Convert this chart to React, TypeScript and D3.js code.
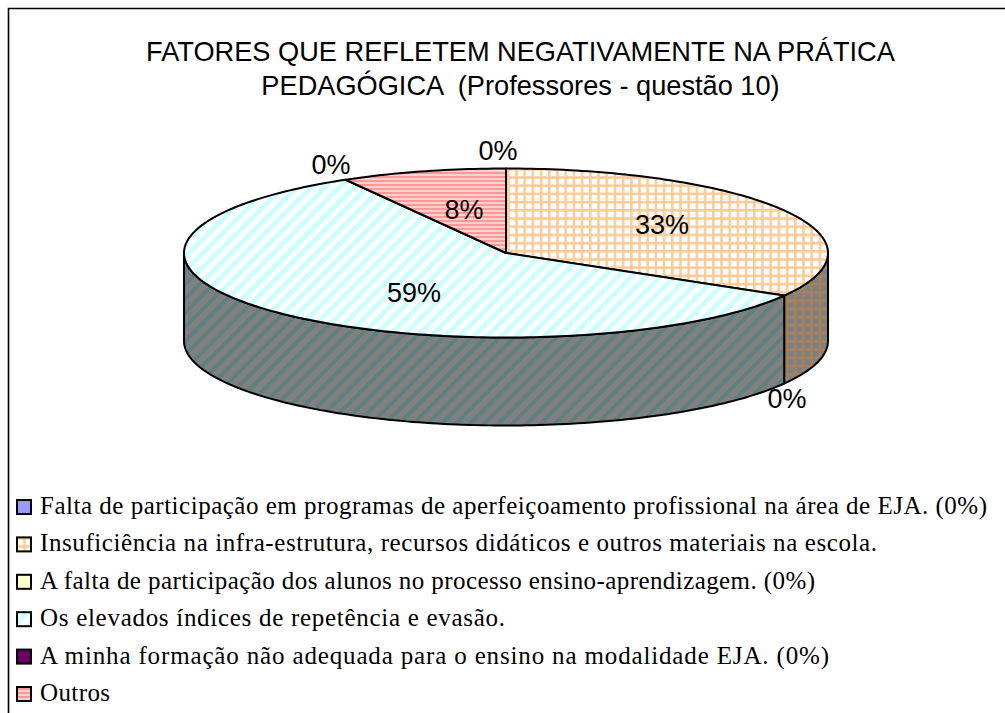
import React from "react";
import * as d3 from "d3";

const categories = [
  "Falta de participação em programas de aperfeiçoamento profissional na área de EJA. (0%)",
  "Insuficiência na infra-estrutura, recursos didáticos e outros materiais na escola.",
  "A falta de participação dos alunos no processo ensino-aprendizagem. (0%)",
  "Os elevados índices de repetência e evasão.",
  "A minha formação não adequada para o ensino na modalidade EJA. (0%)",
  "Outros",
];
const values = [0, 33.4, 0, 58.3, 0, 8.3];
const valueLabels = ["0%", "33%", "0%", "59%", "0%", "8%"];
const titleLines = ["FATORES QUE REFLETEM NEGATIVAMENTE NA PRÁTICA", "PEDAGÓGICA  (Professores - questão 10)"];

const W = 1005, H = 713;
const cx = 506, cy = 253, rx = 322, ry = 84.5, depth = 88;
const labelPos: [number, number][] = [[498, 160], [662, 234], [787, 408], [414, 302], [331, 174], [464, 219]];
const legendWidths = [947, 837, 775, 465, 789, 70];
const legendY = d3.scaleLinear().domain([0, 5]).range([507, 694]);
const fills = ["#9999FF", "url(#grid)", "#FFFFCC", "url(#diag)", "#660066", "url(#hstripe)"];
const walls = ["#4C4C80", "url(#gridDark)", "#80806A", "url(#diagDark)", "#330033", "url(#hstripeDark)"];

const pie = d3.pie<number>().sort(null).value((d) => d);
const arcs = pie(values);
const px = (t: number) => cx + rx * Math.sin(t);
const py = (t: number) => cy - ry * Math.cos(t);
const line = d3.line<[number, number]>();
const steps = (a: number, b: number) => {
  const n = Math.max(2, Math.ceil(Math.abs(b - a) / 0.02));
  return d3.range(n + 1).map((i) => a + ((b - a) * i) / n);
};
const topPath = (a: number, b: number) =>
  (line([[cx, cy], ...steps(a, b).map((t): [number, number] => [px(t), py(t)])]) as string) + "Z";
const wallPath = (a: number, b: number) => {
  const top = steps(a, b).map((t): [number, number] => [px(t), py(t)]);
  const bottom = top.map(([x, y]): [number, number] => [x, y + depth]).reverse();
  return (line([...top, ...bottom]) as string) + "Z";
};

const serif = "'Liberation Serif', 'Times New Roman', serif";
const sans = "'Liberation Sans', Arial, sans-serif";

export default function App() {
  return (
    <svg width={W} height={H} viewBox={`0 0 ${W} ${H}`} style={{ position: "absolute", left: 0, top: 0, display: "block" }}>
      <defs>
        <pattern id="grid" width={8.2} height={8.2} patternUnits="userSpaceOnUse" patternTransform="translate(507 168)">
          <rect width={8.2} height={8.2} fill="#fff" />
          <rect width={8.2} height={2.6} fill="#FFCC99" />
          <rect width={2.6} height={8.2} fill="#FFCC99" />
        </pattern>
        <pattern id="gridDark" width={8.2} height={8.2} patternUnits="userSpaceOnUse" patternTransform="translate(507 168)">
          <rect width={8.2} height={8.2} fill="#808080" />
          <rect width={8.2} height={2.6} fill="#A5805F" />
          <rect width={2.6} height={8.2} fill="#A5805F" />
        </pattern>
        <pattern id="diag" width={10} height={10} patternUnits="userSpaceOnUse" patternTransform="rotate(-45)">
          <rect width={10} height={10} fill="#fff" />
          <rect width={10} height={5} fill="#CCFFFF" />
        </pattern>
        <pattern id="diagDark" width={10} height={10} patternUnits="userSpaceOnUse" patternTransform="rotate(-45)">
          <rect width={10} height={10} fill="#808080" />
          <rect width={10} height={4} fill="#5F8080" />
        </pattern>
        <pattern id="hstripe" width={4} height={4} patternUnits="userSpaceOnUse">
          <rect width={4} height={4} fill="#FFD0D0" />
          <rect width={4} height={2} fill="#FF9999" />
        </pattern>
        <pattern id="hstripeDark" width={4} height={4} patternUnits="userSpaceOnUse">
          <rect width={4} height={4} fill="#808080" />
          <rect width={4} height={2} fill="#804C4C" />
        </pattern>
      </defs>

      <rect width={W} height={H} fill="#fff" />
      <path d={`M${W} 8.5H8.5V${H}`} fill="none" stroke="#000" strokeWidth={1.6} />

      {titleLines.map((t, i) => (
        <text key={i} x={520.5} y={61 + i * 34} textAnchor="middle" fontFamily={sans} fontSize={27.2} fill="#000" style={{ whiteSpace: "pre" }}>
          {t}
        </text>
      ))}

      {arcs.map((a, i) => {
        const s = Math.max(a.startAngle, Math.PI / 2);
        const e = Math.min(a.endAngle, (3 * Math.PI) / 2);
        if (a.value === 0 || e <= s) return null;
        return <path key={i} d={wallPath(s, e)} fill={walls[i]} stroke="#000" strokeWidth={2} strokeLinejoin="round" />;
      })}
      {arcs.map((a, i) =>
        a.value === 0 ? null : (
          <path key={i} d={topPath(a.startAngle, a.endAngle)} fill={fills[i]} stroke="#000" strokeWidth={2} strokeLinejoin="round" />
        )
      )}

      {valueLabels.map((t, i) => (
        <text key={i} x={labelPos[i][0]} y={labelPos[i][1]} textAnchor="middle" fontFamily={sans} fontSize={27} fill="#000">
          {t}
        </text>
      ))}

      {categories.map((c, i) => {
        const y = legendY(i);
        return (
          <g key={i}>
            <rect x={17} y={y - 7} width={14} height={14} fill={fills[i]} stroke="#000" strokeWidth={2} />
            <text x={40} y={y + 7} fontFamily={serif} fontSize={25} fill="#000" textLength={legendWidths[i]} lengthAdjust="spacing">
              {c}
            </text>
          </g>
        );
      })}
    </svg>
  );
}
